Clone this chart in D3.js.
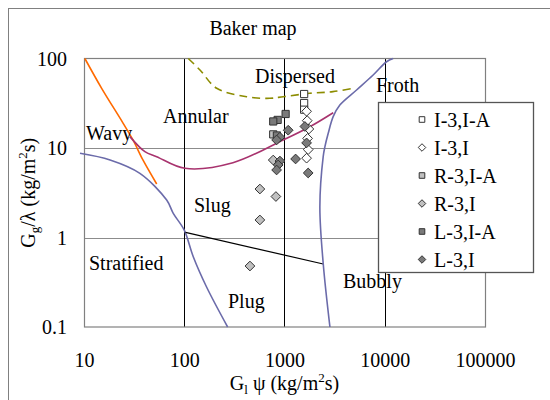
<!DOCTYPE html>
<html><head><meta charset="utf-8">
<script src="https://cdn.jsdelivr.net/npm/d3@7"></script>
<style>
html,body{margin:0;padding:0;background:#fff;}
svg{display:block;}
svg text{font-family:"Liberation Serif","Times New Roman",serif !important;}
</style></head>
<body>
<svg id="chart" width="550" height="400"></svg>
<script>
// ---- data ----
const xTicks = [10, 100, 1000, 10000, 100000];
const yTicks = [0.1, 1, 10, 100];
const xGrid = [100, 1000, 10000];
const yGrid = [1, 10];

// boundary curves [G_l psi, G_g/lambda]
const orangeLine = [[10.2,100],[15.0,46.4],[24.5,19.0],[30.8,12.3],[38.7,7.35],[53.1,3.96]];
const maroonLine = [[28.7,13.4],[40.5,9.1],[53.1,8.0],[101.6,5.93],[306,6.85],[970,12.3],[1791,17.3],[3058,24.8]];
const dashedLine = [[109.7,100],[143.5,74.4],[210.6,46.5],[419,37.4],[714,35.9],[970,37.4],[1791,40.9],[3040,42.6],[5035,46.8]];
const stratLine = [[9.12,8.73],[18.2,7.35],[36.1,5.21],[66.8,2.62],[77.7,1.86],[100,1.21],[123,0.61],[167,0.28],[271,0.1]];
const plugLine = [[103,1.14],[2432,0.506]];
const bubblyLine = [[12130,100],[10420,92],[7660,65.4],[5235,44.5],[3565,30.2],[3058,22.4],[2730,14.6],[2528,10.3],[2432,8.0],[2253,2.21],[2432,0.515],[2839,0.1]];

// measured points
const seriesNames = ["I-3,I-A","I-3,I","R-3,I-A","R-3,I","L-3,I-A","L-3,I"];
const i3IA = [[1570,40.1],[1570,31.8],[1570,26.8]];
const i3I = [[1661,25.7],[1684,20.2],[1751,16.3],[1700,12.8],[1723,9.6],[1661,7.7]];
const r3IA = [[772,14.2]];
const r3I = [[772,7.34],[568,3.48],[821,2.87],[568,1.57],[452,0.48]];
const l3IA = [[1026,24.0],[854,20.6],[772,19.8],[840,13.8]];
const l3I = [[1089,15.8],[900,13.2],[834,12.3],[1597,17.4],[1661,11.4],[1290,7.54],[1723,5.26],[900,7.15],[865,6.46],[834,5.68]];

const regionLabels = ["Wavy","Annular","Dispersed","Froth","Slug","Stratified","Plug","Bubbly"];

// ---- drawing ----
const FONT = '"Liberation Serif","Times New Roman",serif';
const svg = d3.select("#chart");
const L = 84, R = 485, T = 58.5, B = 327;
const x = d3.scaleLog().domain([10, 100000]).range([L, R]);
const y = d3.scaleLog().domain([0.1, 100]).range([B, T]);

// outer chart border
svg.append("rect").attr("x",8.5).attr("y",8.5).attr("width",560).attr("height",420)
  .attr("fill","#fff").attr("stroke","#808080").attr("stroke-width",1);

// title
svg.append("text").attr("x",253).attr("y",35).attr("text-anchor","middle")
  .style("font-family",FONT).attr("font-size",20).attr("fill","#000").text("Baker map");

// gridlines
svg.append("g").selectAll("line").data(yGrid).join("line")
  .attr("x1",L).attr("x2",R).attr("y1",d=>Math.round(y(d))+0.5).attr("y2",d=>Math.round(y(d))+0.5)
  .attr("stroke","#8c8c8c").attr("stroke-width",1);
svg.append("g").selectAll("line").data(xGrid).join("line")
  .attr("x1",d=>Math.round(x(d))+0.5).attr("x2",d=>Math.round(x(d))+0.5).attr("y1",T).attr("y2",B)
  .attr("stroke","#000").attr("stroke-width",1);

// plot border
svg.append("rect").attr("x",L+0.5).attr("y",T).attr("width",R-L).attr("height",B-T)
  .attr("fill","none").attr("stroke","#808080").attr("stroke-width",1.2);

// axes
const xAxis = d3.axisBottom(x).tickValues(xTicks).tickFormat(d3.format("d")).tickSize(0).tickPadding(0);
const gx = svg.append("g").attr("transform",`translate(0,${B})`).call(xAxis);
gx.attr("font-family",null).attr("font-size",null);
gx.select(".domain").remove();
gx.selectAll("text").style("font-family",FONT).style("font-size","20px")
  .attr("fill","#000").attr("y",40).attr("dy",0);

const yAxis = d3.axisLeft(y).tickValues(yTicks).tickFormat(d => d < 1 ? "0.1" : d3.format("d")(d)).tickSize(0).tickPadding(0);
const gy = svg.append("g").call(yAxis);
gy.attr("font-family",null).attr("font-size",null);
gy.select(".domain").remove();
gy.selectAll("text").style("font-family",FONT).style("font-size","20px")
  .attr("fill","#000").attr("x",67).attr("dy","0.33em");

// axis titles
const xt = svg.append("text").attr("x",(L+R)/2).attr("y",390).attr("text-anchor","middle")
  .style("font-family",FONT).attr("font-size",20).attr("fill","#000");
xt.append("tspan").text("G");
xt.append("tspan").attr("font-size",13).attr("dy",4).text("l");
xt.append("tspan").attr("dy",-4).text(" ψ (kg/m");
xt.append("tspan").attr("font-size",13).attr("dy",-8).text("2");
xt.append("tspan").attr("dy",8).text("s)");

const yt = svg.append("text").attr("transform",`translate(35,${(T+B)/2}) rotate(-90)`)
  .attr("text-anchor","middle").style("font-family",FONT).attr("font-size",20).attr("fill","#000");
yt.append("tspan").text("G");
yt.append("tspan").attr("font-size",13).attr("dy",4).text("g");
yt.append("tspan").attr("dy",-4).text("/λ (kg/m");
yt.append("tspan").attr("font-size",13).attr("dy",-8).text("2");
yt.append("tspan").attr("dy",8).text("s)");

// curves
const lineX = d3.line().x(d=>x(d[0])).y(d=>y(d[1])).curve(d3.curveCatmullRom.alpha(0.5));
svg.append("path").attr("d",lineX(orangeLine)).attr("fill","none").attr("stroke","#FF6A00").attr("stroke-width",1.6);
svg.append("path").attr("d",lineX(maroonLine)).attr("fill","none").attr("stroke","#A8336E").attr("stroke-width",1.6);
svg.append("path").attr("d",lineX(dashedLine)).attr("fill","none").attr("stroke","#8C8C00").attr("stroke-width",1.6).attr("stroke-dasharray","8,5");
svg.append("path").attr("d",lineX(stratLine)).attr("fill","none").attr("stroke","#6B6BAA").attr("stroke-width",1.6);
svg.append("path").attr("d",d3.line().x(d=>x(d[0])).y(d=>y(d[1]))(plugLine)).attr("fill","none").attr("stroke","#000").attr("stroke-width",1.2);
svg.append("path").attr("d",lineX(bubblyLine)).attr("fill","none").attr("stroke","#6B6BAA").attr("stroke-width",1.6);

// region labels
const labelPos = [[86,140],[163,123],[255,83],[376,92],[194,212],[89,270],[228,308],[343,288]];
svg.append("g").selectAll("text").data(regionLabels).join("text")
  .attr("x",(d,i)=>labelPos[i][0]).attr("y",(d,i)=>labelPos[i][1])
  .style("font-family",FONT).attr("font-size",20).attr("fill","#000").text(d=>d);

// markers
const styles = [
  {data:i3IA, shape:"sq", fill:"#fff"},
  {data:i3I, shape:"di", fill:"#fff"},
  {data:r3IA, shape:"sq", fill:"#c0c0c0"},
  {data:r3I, shape:"di", fill:"#c0c0c0"},
  {data:l3IA, shape:"sq", fill:"#7a7a7a"},
  {data:l3I, shape:"di", fill:"#7a7a7a"}
];
function markerPath(shape, s){
  if(shape==="sq") return `M${-s},${-s}H${s}V${s}H${-s}Z`;
  const r = s*1.35;
  return `M0,${-r}L${r},0L0,${r}L${-r},0Z`;
}
styles.forEach(st=>{
  svg.append("g").selectAll("path").data(st.data).join("path")
    .attr("transform",d=>`translate(${x(d[0])},${y(d[1])})`)
    .attr("d",markerPath(st.shape,3.6))
    .attr("fill",st.fill).attr("stroke","#333").attr("stroke-width",1);
});

// legend
const lg = svg.append("g");
lg.append("rect").attr("x",378.5).attr("y",102.5).attr("width",155).attr("height",170)
  .attr("fill","#fff").attr("stroke","#555").attr("stroke-width",1.3);
seriesNames.forEach((name,i)=>{
  const cy = 119.5 + i*28;
  lg.append("path").attr("transform",`translate(422,${cy})`)
    .attr("d",markerPath(styles[i].shape,2.8)).attr("fill",styles[i].fill)
    .attr("stroke","#333").attr("stroke-width",1);
  lg.append("text").attr("x",434).attr("y",cy+7).style("font-family",FONT)
    .attr("font-size",20).attr("fill","#000").text(name);
});
</script>
</body></html>
